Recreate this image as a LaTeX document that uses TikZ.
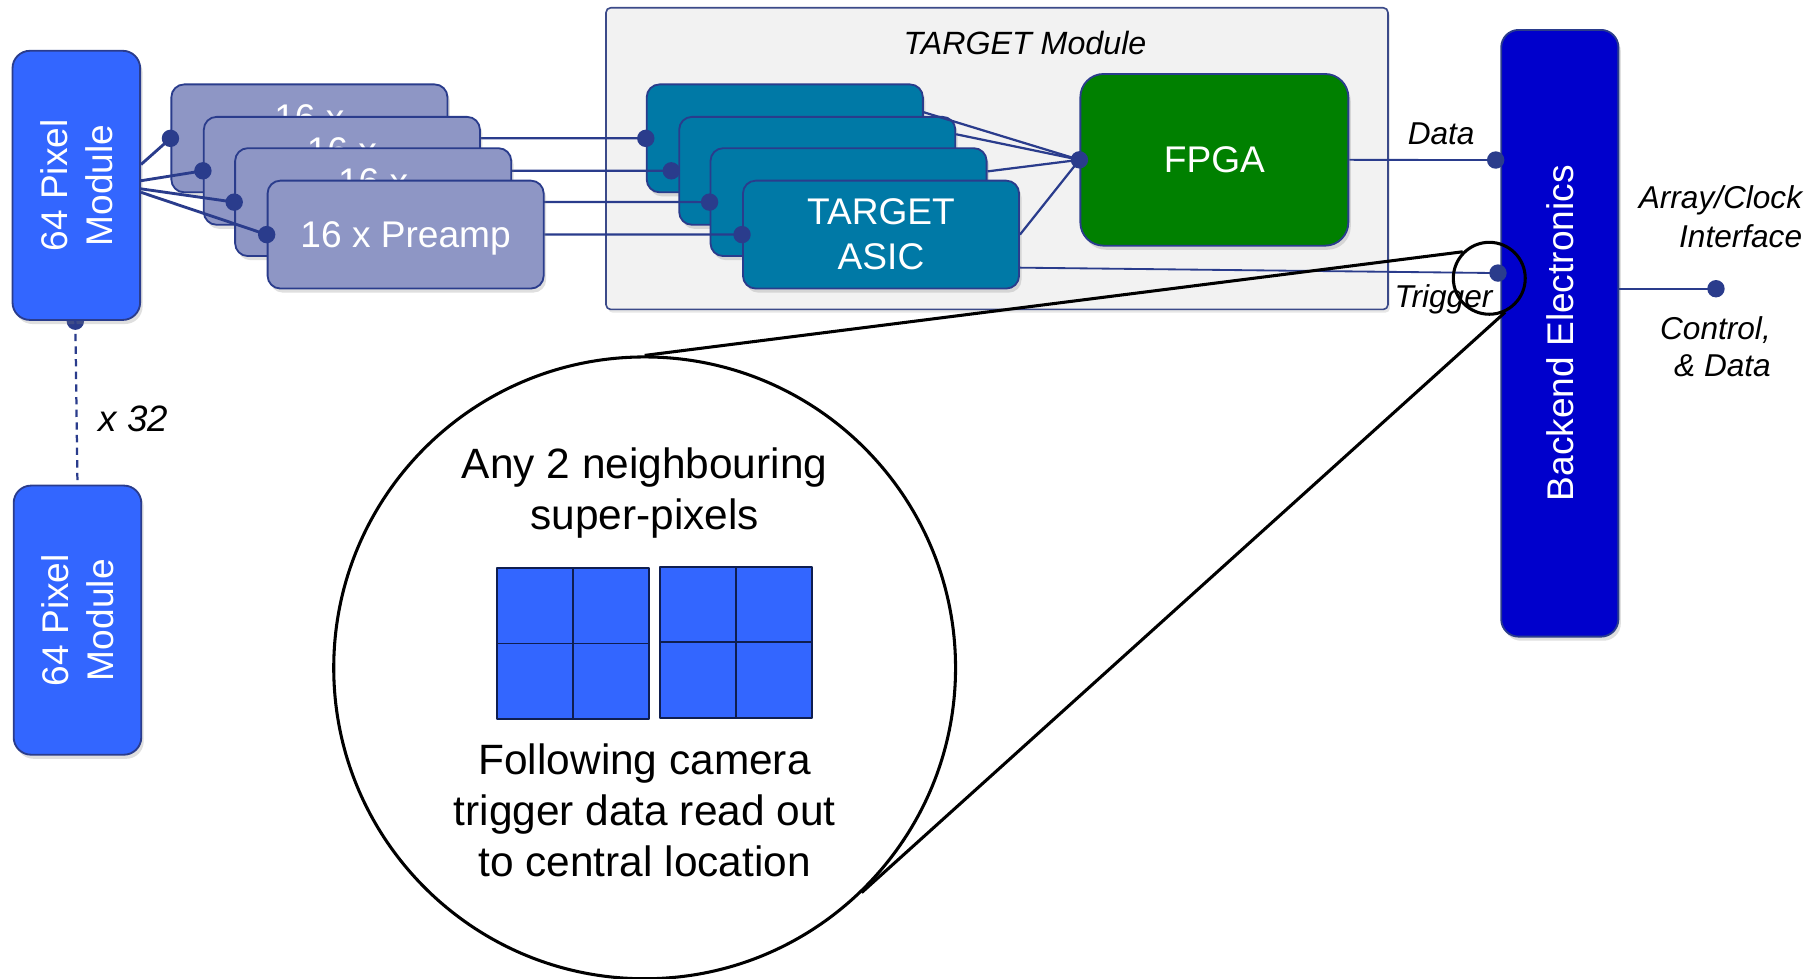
\documentclass[tikz,border=0pt]{standalone}
\usepackage{fontspec}
\setmainfont{Liberation Sans}
\usetikzlibrary{shadows}

\definecolor{lnblue}{RGB}{42,60,140}
\definecolor{pixblue}{RGB}{51,102,255}
\definecolor{prefill}{RGB}{142,150,197}
\definecolor{asicfill}{RGB}{0,121,166}
\definecolor{fpgafill}{RGB}{0,128,0}
\definecolor{befill}{RGB}{0,0,204}
\definecolor{modfill}{RGB}{242,242,242}
\definecolor{gridline}{RGB}{15,30,80}

\newcommand{\fsMain}{\fontsize{9.1}{11}\selectfont}
\newcommand{\fsBig}{\fontsize{10.4}{12.6}\selectfont}
\newcommand{\fsLab}{\fontsize{7.75}{9.6}\selectfont\itshape}

\begin{document}
\begin{tikzpicture}[x=0.01cm,y=-0.01cm,line join=round,
  conn/.style={draw=lnblue, line width=0.55pt},
  thickconn/.style={draw=lnblue, line width=0.7pt},
  thinconn/.style={draw=lnblue, line width=0.45pt},
  dotn/.style={circle, fill=lnblue, inner sep=0pt, minimum size=0.15cm},
  boxbase/.style={draw=lnblue, line width=0.45pt, inner sep=0pt, anchor=north west,
    drop shadow={shadow xshift=0.6pt, shadow yshift=-1pt, opacity=0.25}},
  pixmod/.style={boxbase, fill=pixblue, minimum width=1.10cm, minimum height=2.32cm, rounded corners=0.15cm},
  prebox/.style={boxbase, fill=prefill, minimum width=2.38cm, minimum height=0.93cm, rounded corners=0.11cm},
  preghost/.style={inner sep=0pt, anchor=north west, minimum width=2.38cm, minimum height=0.93cm},
  asicbox/.style={boxbase, fill=asicfill, minimum width=2.38cm, minimum height=0.93cm, rounded corners=0.11cm},
  wtext/.style={text=white, align=center, font=\fsMain, inner sep=0pt},
  rottext/.style={wtext, rotate=90},
  lab/.style={font=\fsLab, inner sep=0pt},
  circtext/.style={font=\fsBig, align=center, inner sep=0pt},
  zoomline/.style={draw=black, line width=0.75pt}
]
\useasboundingbox (0,0) rectangle (1568,844);

% TARGET module container
\node[anchor=north west, draw=lnblue!80!gray, line width=0.4pt, fill=modfill, minimum width=6.74cm, minimum height=2.60cm,
  rounded corners=0.04cm, inner sep=0pt, drop shadow={shadow xshift=0.5pt, shadow yshift=-0.8pt, opacity=0.2}] (tmod) at (522,6) {};
\node[lab, font=\fontsize{7.9}{9.6}\selectfont\itshape] (tmodlab) at (884,37) {TARGET Module};

% ASIC stack
\node[asicbox] (asic1) at (557,72) {};
\node[asicbox] (asic2) at (585,100) {};
\node[asicbox] (asic3) at (612,127) {};
\node[asicbox, wtext] (asic4) at (640,155) {TARGET\\ASIC};

\coordinate (ad1) at (asic1.west);
\coordinate (ad2) at ([xshift=-0.06cm]asic2.west);
\coordinate (ad3) at (asic3.west);
\coordinate (ad4) at (asic4.west);

% preamp outlines (positions only), lines drawn under the boxes
\node[preghost] (pre1) at (147,72) {};
\node[preghost] (pre2) at (175,100) {};
\node[preghost] (pre3) at (202,127) {};
\node[preghost] (pre4) at (230,155) {};
\draw[conn] (pre1.east) -- (ad1);
\draw[conn] (pre2.east) -- (ad2);
\draw[conn] (pre3.east) -- (ad3);
\draw[conn] (pre4.east) -- (ad4);

\node[prebox] (p1) at (147,72) {};
\node[wtext] (p1t) at ([yshift=-0.05cm]p1.center) {16 x\\Preamp};
\node[prebox] (p2) at (175,100) {};
\node[wtext] (p2t) at ([yshift=-0.05cm]p2.center) {16 x\\Preamp};
\node[prebox] (p3) at (202,127) {};
\node[wtext] (p3t) at ([yshift=-0.05cm]p3.center) {16 x\\Preamp};
\node[prebox] (p4) at (230,155) {};
\node[wtext] (p4t) at ([yshift=-0.03cm]p4.center) {16 x Preamp};

% pixel modules
\node[dotn] (pmdot) at (65,277) {};
\node[pixmod] (pm1) at (10,43) {};
\node[rottext] (pm1t) at (pm1.center) {64 Pixel\\Module};
\node[pixmod] (pm2) at (11,418) {};
\node[rottext] (pm2t) at (pm2.center) {64 Pixel\\Module};
\draw[conn, dash pattern=on 1.8pt off 1.3pt] (pmdot.center) -- (pm2.north);
\node[font=\fontsize{9}{11}\selectfont\itshape, inner sep=0pt] (x32) at (115,361) {x 32};

% pixel module to preamps
\node[dotn] (pd1) at (p1.west) {};
\node[dotn] (pd2) at (p2.west) {};
\node[dotn] (pd3) at (p3.west) {};
\node[dotn] (pd4) at (p4.west) {};
\draw[thickconn] ([yshift=0.18cm]pm1.east) -- (pd1.center);
\draw[thickconn] ([yshift=0.04cm]pm1.east) -- (pd2.center);
\draw[thickconn] ([yshift=-0.03cm]pm1.east) -- (pd3.center);
\draw[thickconn] ([yshift=-0.06cm]pm1.east) -- (pd4.center);

% ASIC input dots
\node[dotn] (ad1n) at (ad1) {};
\node[dotn] (ad2n) at (ad2) {};
\node[dotn] (ad3n) at (ad3) {};
\node[dotn] (ad4n) at (ad4) {};

% FPGA
\node[boxbase, fill=fpgafill, minimum width=2.31cm, minimum height=1.48cm, rounded corners=0.2cm, wtext] (fpga) at (931,63) {FPGA};
\node[dotn] (fdot) at (fpga.west) {};
\draw[conn] ([yshift=0.225cm]asic1.east) -- (fdot.center);
\draw[conn] ([yshift=0.315cm]asic2.east) -- (fdot.center);
\draw[conn] ([yshift=0.265cm]asic3.east) -- (fdot.center);
\draw[conn] (asic4.east) -- (fdot.center);

% Backend
\node[boxbase, fill=befill, minimum width=1.01cm, minimum height=5.23cm, rounded corners=0.15cm] (be) at (1294,25) {};
\node[rottext] (bet) at (be.center) {Backend Electronics};

\node[dotn] (ddot) at (1290,138) {};
\node[dotn] (tdot) at (1292,235.5) {};
\draw[thinconn] (fpga.east) -- (ddot.center);
\draw[thinconn] ([yshift=-0.285cm]asic4.east) -- (tdot.center);
\node[lab] (datalab) at (1243,115) {Data};
\node[lab] (triglab) at (1245,258) {Trigger};

\node[dotn] (ifdot) at (1480,249) {};
\draw[thinconn] (ifdot.center) -- (ifdot.center -| be.east);
\node[lab, align=right, anchor=east] (arrlab) at (1555,187) {Array/Clock\\Interface};
\node[lab, align=right, anchor=east, font=\fontsize{7.75}{9.2}\selectfont\itshape] (ctllab) at (1528,299) {Control,\\\& Data};

% zoom circles
\node[circle, zoomline, minimum size=5.36cm, inner sep=0pt] (bigc) at (556,576) {};
\node[circle, zoomline, minimum size=0.62cm, inner sep=0pt] (smallc) at (1284.5,240) {};
\draw[zoomline] (bigc.90) -- (smallc.135.6);
\draw[zoomline] (bigc.-46.2) -- (smallc.-65);

\node[circtext] (ctop) at (556,425) {Any 2 neighbouring\\super-pixels};
\node[circtext] (cbot) at (556,699) {Following camera\\trigger data read out\\to central location};

% super-pixel grids
\draw[fill=pixblue, draw=gridline, line width=0.45pt] (429,490) rectangle (560,620);
\draw[draw=gridline, line width=0.45pt] (494.5,490) -- (494.5,620) (429,555) -- (560,555);
\draw[fill=pixblue, draw=gridline, line width=0.45pt] (569,489) rectangle (700,619);
\draw[draw=gridline, line width=0.45pt] (634.5,489) -- (634.5,619) (569,554) -- (700,554);
\end{tikzpicture}
\end{document}
